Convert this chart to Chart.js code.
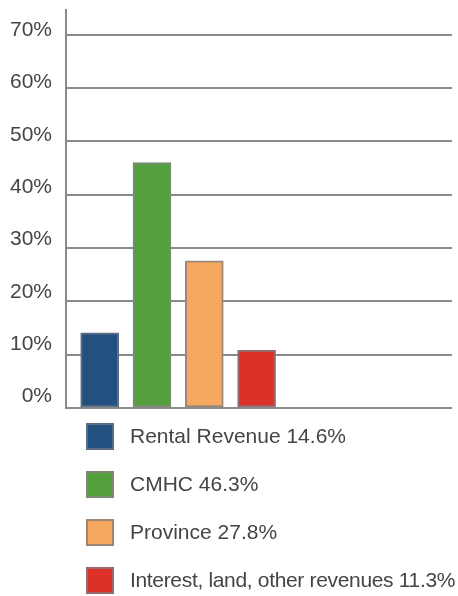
<!DOCTYPE html>
<html><head><meta charset="utf-8">
<script src="https://cdn.jsdelivr.net/npm/chart.js@4/dist/chart.umd.min.js"></script>
<style>
html,body{margin:0;padding:0;background:#fff;}
#wrap{position:relative;width:458px;height:596px;font-family:"Liberation Sans",Arial,sans-serif;overflow:hidden;}
#c{position:absolute;left:0;top:0;width:458px;height:420px;}
#legend{position:absolute;left:86px;top:412px;}
.row{display:flex;align-items:center;height:48px;}
.sw{box-sizing:border-box;width:28px;height:27px;border:2px solid;margin-right:16px;flex:none;}
.lab{font-size:21px;color:#454545;white-space:nowrap;}
</style></head>
<body>
<div id="wrap"><canvas id="c" width="458" height="420"></canvas><div id="legend"></div></div>
<script>
const categories = ['Rental Revenue', 'CMHC', 'Province', 'Interest, land, other revenues'];
const legendLabels = ['Rental Revenue 14.6%', 'CMHC 46.3%', 'Province 27.8%', 'Interest, land, other revenues 11.3%'];
const values = [14.1, 46.0, 27.6, 10.8];
const tickValues = [0, 10, 20, 30, 40, 50, 60, 70];
const fillColors = ['#22507f', '#54a03f', '#f6a95e', '#dc3129'];
const borderColors = ['#5d6d84', '#7b8a73', '#9c8878', '#996a6c'];

const FONT = '"Liberation Sans", Arial, sans-serif';
const GRID = '#8a8a8a';

const setTicks = s => { s.ticks = tickValues.map(v => ({ value: v })); };

new Chart(document.getElementById('c'), {
  type: 'bar',
  data: {
    datasets: [{
      label: 'Revenue',
      data: values.map((v, i) => ({ x: i, y: v })),
      backgroundColor: fillColors,
      borderColor: borderColors,
      borderWidth: 2,
      borderSkipped: false,
      barThickness: 38
    }]
  },
  options: {
    responsive: false,
    animation: false,
    layout: { padding: { top: 10, bottom: 12, right: 6, left: 0 } },
    plugins: { legend: { display: false }, tooltip: { enabled: false } },
    scales: {
      x: { type: 'linear', min: -0.644, max: 6.736, bounds: 'data', offset: false, display: false, grid: { offset: false } },
      y: {
        position: 'left', weight: 0, min: 0, max: 74.63,
        afterBuildTicks: setTicks,
        ticks: { display: false },
        grid: { color: GRID, lineWidth: 2, drawTicks: false },
        border: { display: true, color: GRID, width: 2 },
        afterFit: s => { s.width = 0; s.paddingTop = 0; s.paddingBottom = 0; }
      },
      yl: {
        position: 'left', weight: 1, min: -2.196, max: 73.82,
        afterBuildTicks: setTicks,
        ticks: { padding: 14, color: '#454545', font: { family: FONT, size: 21 }, callback: v => v + '%' },
        grid: { display: false, drawTicks: false },
        border: { display: false },
        afterFit: s => { s.width = 66; s.paddingTop = 0; s.paddingBottom = 0; }
      }
    }
  }
});

const lg = document.getElementById('legend');
legendLabels.forEach((t, i) => {
  const row = document.createElement('div');
  row.className = 'row';
  const sw = document.createElement('div');
  sw.className = 'sw';
  sw.style.background = fillColors[i];
  sw.style.borderColor = borderColors[i];
  const lab = document.createElement('span');
  lab.className = 'lab';
  lab.textContent = t;
  row.appendChild(sw);
  row.appendChild(lab);
  lg.appendChild(row);
  // keep the longest label inside the page, as in the reference
  const avail = 455 - 130;
  const w = lab.getBoundingClientRect().width;
  if (w > avail) {
    lab.style.letterSpacing = (-(w - avail) / t.length).toFixed(2) + 'px';
  }
});
</script>
</body></html>
